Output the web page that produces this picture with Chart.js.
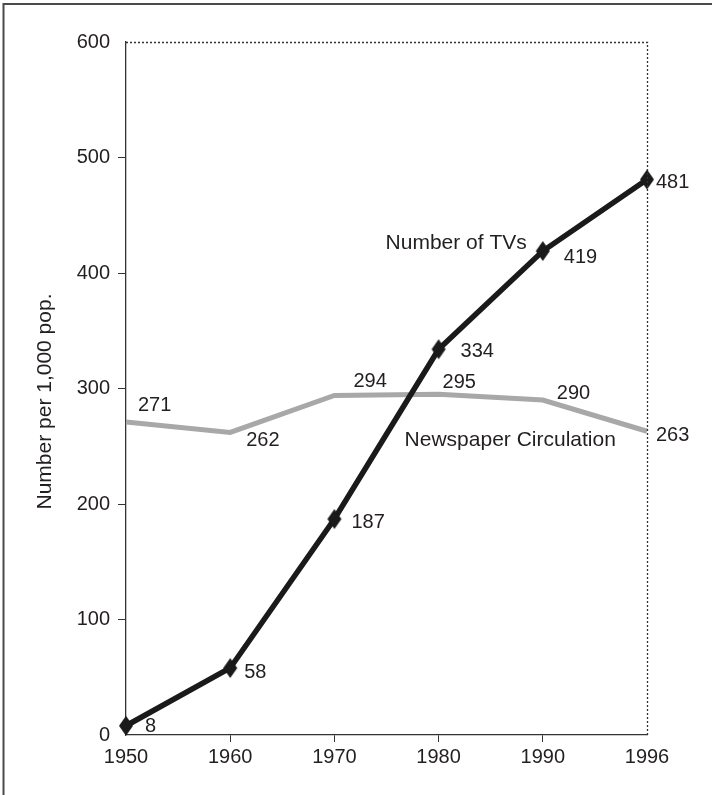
<!DOCTYPE html>
<html>
<head>
<meta charset="utf-8">
<script src="https://cdn.jsdelivr.net/npm/chart.js@4/dist/chart.umd.min.js"></script>
<style>
  html, body { margin: 0; padding: 0; background: #fff; }
  canvas { display: block; }
</style>
</head>
<body>
<canvas id="c" width="712" height="795"></canvas>
<script>
// ---- data ----
const years = ['1950', '1960', '1970', '1980', '1990', '1996'];
const tvsPer1000 = [8, 58, 187, 334, 419, 481];
const newspaperPer1000 = [271, 262, 294, 295, 290, 263];
const yTicks = [0, 100, 200, 300, 400, 500, 600];
const seriesNames = ['Number of TVs', 'Newspaper Circulation'];
const yTitle = 'Number per 1,000 pop.';

// ---- label styling (pixel offsets from each point) ----
const tvLabelOffsets = [[19, 1], [14, 4], [17, 3], [22, 2], [21, 6], [9, 3]];
const npLabelOffsets = [[12, -17], [16, 8], [19, -14], [4, -12], [14, -7], [9, 4]];

const FONT = '"Liberation Sans", Arial, Helvetica, sans-serif';
const TEXT = '#231f20';

// tall diamond marker
const diamond = (() => {
  const cv = document.createElement('canvas');
  cv.width = 16; cv.height = 22;
  const g = cv.getContext('2d');
  g.fillStyle = '#1a1a1a';
  g.beginPath();
  g.moveTo(8, 1); g.lineTo(15, 11); g.lineTo(8, 21); g.lineTo(1, 11);
  g.closePath(); g.fill();
  return cv;
})();

const edgeTick = (ctx, n) => (ctx.index === 0 || ctx.index === n - 1) ? 'rgba(0,0,0,0)' : '#333';

const decorations = {
  id: 'decorations',
  beforeDraw(chart) {
    const c = chart.ctx;
    c.save();
    c.fillStyle = '#fff';
    c.fillRect(0, 0, chart.width, chart.height);
    c.strokeStyle = '#4a4a4a';
    c.lineWidth = 2;
    c.beginPath();
    c.moveTo(3.5, 795);
    c.lineTo(3.5, 4);
    c.lineTo(712, 4);
    c.stroke();
    c.restore();
  },
  afterDatasetsDraw(chart) {
    const c = chart.ctx;
    const a = chart.chartArea;
    c.save();
    c.strokeStyle = '#333';
    c.lineWidth = 1.3;
    c.setLineDash([2, 2]);
    c.beginPath();
    c.moveTo(a.left, a.top + 0.5);
    c.lineTo(a.right + 0.5, a.top + 0.5);
    c.lineTo(a.right + 0.5, a.bottom);
    c.stroke();
    c.setLineDash([]);

    // y-axis title
    c.save();
    c.translate(45, (a.top + a.bottom) / 2 + 13);
    c.rotate(-Math.PI / 2);
    c.font = '21px ' + FONT;
    c.fillStyle = TEXT;
    c.textAlign = 'center';
    c.textBaseline = 'middle';
    c.fillText(yTitle, 0, 0);
    c.restore();

    c.font = '20px ' + FONT;
    c.fillStyle = TEXT;
    c.textAlign = 'left';
    c.textBaseline = 'middle';
    const draw = (dsIndex, offsets) => {
      const meta = chart.getDatasetMeta(dsIndex);
      const vals = chart.data.datasets[dsIndex].data;
      meta.data.forEach((pt, i) => {
        c.fillText(String(vals[i]), pt.x + offsets[i][0], pt.y + offsets[i][1]);
      });
    };
    draw(0, tvLabelOffsets);
    draw(1, npLabelOffsets);

    const xs = chart.scales.x, ys = chart.scales.y;
    c.font = '21px ' + FONT;
    c.fillText(seriesNames[0], xs.getPixelForValue(3) - 53, ys.getPixelForValue(426));
    c.fillText(seriesNames[1], xs.getPixelForValue(3) - 34, ys.getPixelForValue(255));
    c.restore();
  }
};

new Chart(document.getElementById('c'), {
  type: 'line',
  data: {
    labels: years,
    datasets: [
      {
        label: seriesNames[0],
        data: tvsPer1000,
        borderColor: '#1a1a1a',
        backgroundColor: '#1a1a1a',
        borderWidth: 5.5,
        pointStyle: diamond,
        pointRadius: 9,
        pointBorderWidth: 0,
        tension: 0,
        order: 0
      },
      {
        label: seriesNames[1],
        data: newspaperPer1000,
        borderColor: '#a8a8aa',
        backgroundColor: '#a8a8aa',
        borderWidth: 5,
        pointRadius: 0,
        tension: 0,
        order: 1
      }
    ]
  },
  options: {
    responsive: false,
    animation: false,
    devicePixelRatio: 1,
    layout: { padding: { left: 0, right: 65, top: 42, bottom: 0 } },
    plugins: {
      legend: { display: false },
      tooltip: { enabled: false },
      title: { display: false }
    },
    scales: {
      x: {
        type: 'category',
        offset: false,
        grid: {
          drawOnChartArea: false,
          drawTicks: true,
          tickLength: 7,
          tickWidth: 1,
          tickColor: (ctx) => edgeTick(ctx, years.length)
        },
        border: { display: true, color: '#333', width: 1.3, dash: [2, 2] },
        ticks: {
          color: TEXT,
          font: { family: FONT, size: 20 },
          padding: 3,
          maxRotation: 0,
          autoSkip: false
        },
        afterFit(scale) { scale.height = 795 - 735; }
      },
      y: {
        min: 0,
        max: 600,
        afterBuildTicks(scale) { scale.ticks = yTicks.map(v => ({ value: v })); },
        grid: {
          drawOnChartArea: false,
          drawTicks: true,
          tickLength: 8,
          tickWidth: 1,
          tickColor: (ctx) => edgeTick(ctx, yTicks.length)
        },
        border: { display: true, color: '#333', width: 1.3, dash: [2, 2] },
        ticks: {
          color: TEXT,
          font: { family: FONT, size: 20 },
          padding: 8
        },
        title: { display: false },
        afterFit(scale) { scale.width = 126; }
      }
    }
  },
  plugins: [decorations]
});
</script>
</body>
</html>
